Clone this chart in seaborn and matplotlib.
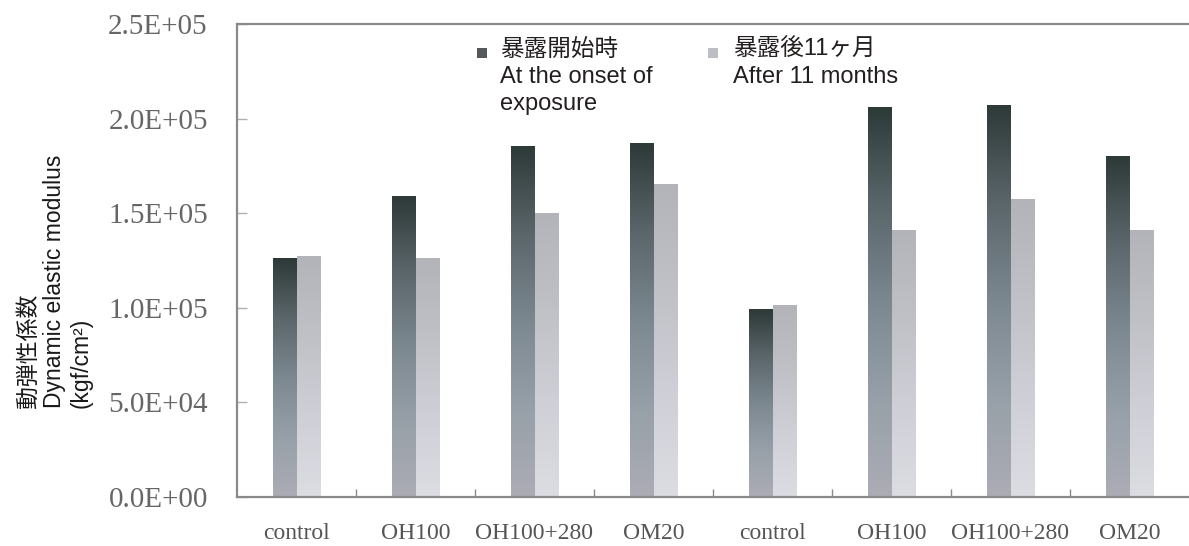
import numpy as np
import pandas as pd
import matplotlib
matplotlib.use("Agg")
import matplotlib.pyplot as plt
from matplotlib.colors import LinearSegmentedColormap
from matplotlib.patches import Rectangle
import seaborn as sns

# Sample groups (two exposure series of four treatments each)
sample_labels = ["control", "OH100", "OH100+280", "OM20",
                 "control", "OH100", "OH100+280", "OM20"]
# Dynamic elastic modulus (kgf/cm2)
onset_values = [1.26e5, 1.59e5, 1.85e5, 1.87e5, 0.99e5, 2.06e5, 2.07e5, 1.80e5]
after_values = [1.27e5, 1.26e5, 1.50e5, 1.65e5, 1.01e5, 1.41e5, 1.57e5, 1.41e5]
series_names = ["暴露開始時\nAt the onset of\nexposure", "暴露後11ヶ月\nAfter 11 months"]
y_ticks = [0, 5e4, 1e5, 1.5e5, 2e5, 2.5e5]
y_tick_labels = ["0.0E+00", "5.0E+04", "1.0E+05", "1.5E+05", "2.0E+05", "2.5E+05"]

n = len(sample_labels)
df = pd.DataFrame({
    "slot": list(range(n)) * 2,
    "series": [series_names[0]] * n + [series_names[1]] * n,
    "value": onset_values + after_values,
})

sns.set_theme(style="white")
plt.rcParams["font.family"] = ["Liberation Sans", "Noto Sans CJK JP", "DejaVu Sans"]

fig = plt.figure(figsize=(11.89, 5.46), dpi=100)
W, H = 1189, 546
ax_left, ax_right, ax_top, ax_bottom = 237, 1189, 24, 497
ax = fig.add_axes([ax_left / W, 1 - ax_bottom / H,
                   (ax_right - ax_left) / W, (ax_bottom - ax_top) / H])

sns.barplot(data=df, x="slot", y="value", hue="series", hue_order=series_names,
            width=0.4, ax=ax, legend=False, errorbar=None, saturation=1)

# Vertical gradients for each series (bottom colour -> top colour)
cmaps = [
    LinearSegmentedColormap.from_list(
        "onset", ["#acacb5", "#97a0a8", "#7c8890", "#5a666a", "#2e3a38"]),
    LinearSegmentedColormap.from_list(
        "after", ["#dcdce3", "#cfd0d7", "#c0c1c7", "#b3b4ba"]),
]
grad = np.linspace(0, 1, 256).reshape(-1, 1)
for cont, cmap in zip(ax.containers, cmaps):
    for bar in cont:
        x0 = bar.get_x()
        w = bar.get_width()
        h = bar.get_height()
        ax.imshow(grad, extent=(x0, x0 + w, 0, h), origin="lower", cmap=cmap,
                  aspect="auto", interpolation="bicubic", zorder=2)
        bar.set_facecolor("none")
        bar.set_edgecolor("none")

ax.set_xlim(-0.5, n - 0.5)
ax.set_ylim(0, 2.5e5)

# Axes styling
for side in ["left", "bottom", "top"]:
    ax.spines[side].set_color("#8a8a8a")
    ax.spines[side].set_linewidth(1.6)
ax.spines["right"].set_visible(False)

ax.set_yticks(y_ticks)
ax.set_yticklabels(y_tick_labels, family="Liberation Serif", fontsize=21,
                   color="#666666")
ax.tick_params(axis="y", direction="in", length=7, width=1, color="#b0b0b0",
               pad=21, left=True)

ax.set_xticks(range(n))
ax.set_xticklabels(sample_labels, family="Liberation Serif", fontsize=17,
                   color="#555555")
ax.tick_params(axis="x", which="major", length=0, pad=19)
ax.set_xticks(np.arange(0.5, n - 0.5, 1.0), minor=True)
ax.tick_params(axis="x", which="minor", direction="in", length=6, width=1,
               color="#8a8a8a", bottom=True)
ax.set_xlabel("")
ax.set_ylabel("")

# Y axis title (three lines, rotated)
fig.text(55 / W, 1 - 408 / H, "動弾性係数\nDynamic elastic modulus\n(kgf/cm²)",
         rotation=90, ha="center", va="bottom", multialignment="left",
         fontsize=16.5, color="#1a1a1a", linespacing=1.2)

# Legend drawn inside the plot area
legend_items = [
    (482, 500, "#55595c", series_names[0]),
    (713, 733, "#bdbec4", series_names[1]),
]
for mx, tx, col, label in legend_items:
    fig.patches.append(Rectangle(((mx - 5) / W, 1 - 58 / H), 10 / W, 10 / H,
                                 transform=fig.transFigure, facecolor=col,
                                 edgecolor="none"))
    fig.text(tx / W, 1 - 39 / H, label, ha="left", va="top", fontsize=17,
             color="#231f1f", linespacing=1.3)

fig.savefig("out.png", dpi=100, facecolor="white")
